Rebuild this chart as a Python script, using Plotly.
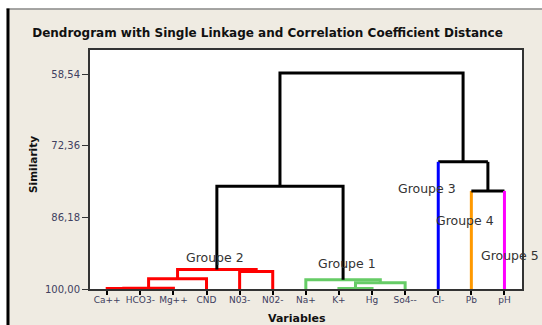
import plotly.graph_objects as go

# Leaves of the dendrogram, in display order, with the group each belongs to
leaves = ["Ca++", "HCO3-", "Mg++", "CND", "N03-", "N02-",
          "Na+", "K+", "Hg", "So4--", "Cl-", "Pb", "pH"]
leaf_groups = [2, 2, 2, 2, 2, 2, 1, 1, 1, 1, 3, 4, 5]

# Agglomeration steps: leaf nodes are 0..12, step k creates node 13 + k
merge_left = [0, 13, 7, 15, 6, 14, 4, 18, 11, 20, 10, 22]
merge_right = [1, 2, 8, 9, 16, 3, 5, 19, 12, 17, 21, 23]
merge_similarity = [99.92, 99.85, 99.90, 98.80, 98.22, 98.03,
                    96.62, 96.23, 81.08, 80.17, 75.47, 58.32]

# Similarity axis ticks
y_tickvals = [58.54, 72.36, 86.18, 100.00]
y_ticktext = ["58,54", "72,36", "86,18", "100,00"]

group_colors = {1: "#66CC66", 2: "#FF0000", 3: "#0000FF", 4: "#FF9900", 5: "#FF00FF"}
LINK_BLACK = "#000000"

# Node geometry: x centre, height, group (None once two groups are joined)
n_leaves = len(leaves)
node_x = [i + 1 for i in range(n_leaves)]
node_h = [100.0] * n_leaves
node_group = list(leaf_groups)
for a, b, s in zip(merge_left, merge_right, merge_similarity):
    node_x.append((node_x[a] + node_x[b]) / 2)
    node_h.append(s)
    node_group.append(node_group[a] if node_group[a] == node_group[b] else None)


def node_color(n):
    g = node_group[n]
    return group_colors[g] if g is not None else LINK_BLACK


# Collect polylines per colour: each link is left leg, crossbar, right leg
paths = {}


def add_path(color, xs, ys):
    d = paths.setdefault(color, ([], []))
    d[0].extend(xs + [None])
    d[1].extend(ys + [None])


for k, (a, b, s) in enumerate(zip(merge_left, merge_right, merge_similarity)):
    m = n_leaves + k
    cm = node_color(m)
    # leaf legs keep the leaf colour, legs from inner nodes take the parent colour
    ca = node_color(a) if a < n_leaves else cm
    cb = node_color(b) if b < n_leaves else cm
    xa, xb = node_x[a], node_x[b]
    if ca == cm and cb == cm:
        add_path(cm, [xa, xa, xb, xb], [node_h[a], s, s, node_h[b]])
    else:
        if ca == cm:
            add_path(cm, [xa, xa, xb], [node_h[a], s, s])
        else:
            add_path(ca, [xa, xa], [node_h[a], s])
            add_path(cm, [xa, xb], [s, s])
        add_path(cb, [xb, xb], [s, node_h[b]])

fig = go.Figure()
for color, (xs, ys) in paths.items():
    fig.add_trace(go.Scatter(x=xs, y=ys, mode="lines",
                             line=dict(color=color, width=3),
                             hoverinfo="skip", showlegend=False))

W, H = 542, 325
L, R, T, B = 90, 20, 50, 36
pw, ph = W - L - R, H - T - B


def px_x(x):
    return (x - L) / pw


def px_y(y):
    return 1 - (y - T) / ph


fig.update_layout(
    width=W, height=H,
    margin=dict(l=L, r=R, t=T, b=B),
    paper_bgcolor="#EFEBE2",
    plot_bgcolor="#FFFFFF",
    showlegend=False,
    font=dict(family="DejaVu Sans", color="#333333"),
    title=dict(text="<b>Dendrogram with Single Linkage and Correlation Coefficient Distance</b>",
               x=267.5 / W, y=1 - 33 / H, xanchor="center", yanchor="middle",
               font=dict(family="DejaVu Sans", size=12, color="#111111")),
)

fig.update_xaxes(
    range=[0.48, 13.53], tickmode="array",
    tickvals=list(range(1, n_leaves + 1)), ticktext=leaves,
    tickfont=dict(size=9, color="#404060"),
    showline=True, linecolor="#333333", linewidth=2, mirror=True,
    ticks="outside", ticklen=4, tickwidth=2, tickcolor="#000000",
    ticklabelstandoff=-3,
    showgrid=False, zeroline=False, fixedrange=True,
)
fig.update_yaxes(
    range=[100, 53.9], tickmode="array",
    tickvals=y_tickvals, ticktext=y_ticktext,
    tickfont=dict(size=10, color="#404060"),
    showline=True, linecolor="#333333", linewidth=2, mirror=True,
    ticks="outside", ticklen=6, tickwidth=1, tickcolor="#333333",
    showgrid=False, zeroline=False, fixedrange=True,
)

# Window frame: white strip above and left, grey top rule, black left rule
shapes = [
    dict(type="rect", xref="paper", yref="paper", layer="below",
         x0=px_x(0), x1=px_x(W), y0=px_y(0), y1=px_y(8.5),
         fillcolor="#FFFFFF", line=dict(width=0)),
    dict(type="rect", xref="paper", yref="paper", layer="below",
         x0=px_x(0), x1=px_x(6.5), y0=px_y(0), y1=px_y(H),
         fillcolor="#FFFFFF", line=dict(width=0)),
    dict(type="line", xref="paper", yref="paper",
         x0=px_x(6.5), x1=px_x(W), y0=px_y(9), y1=px_y(9),
         line=dict(color="#8A8A8A", width=1.5)),
    dict(type="line", xref="paper", yref="paper",
         x0=px_x(8), x1=px_x(8), y0=px_y(8.5), y1=px_y(H),
         line=dict(color="#000000", width=3)),
]
fig.update_layout(shapes=shapes)

annotations = [
    dict(text="<b>Similarity</b>", xref="paper", yref="paper",
         x=px_x(33), y=px_y(165), xanchor="center", yanchor="middle",
         textangle=-90, showarrow=False,
         font=dict(size=10.5, color="#111111")),
    dict(text="<b>Variables</b>", xref="paper", yref="paper",
         x=px_x(296.5), y=px_y(318), xanchor="center", yanchor="middle",
         showarrow=False, font=dict(size=11, color="#111111")),
]
group_label_font = dict(size=12.5, color="#333333")
for text, x, y in [("Groupe 2", 4.258, 93.85), ("Groupe 1", 8.258, 95.07),
                   ("Groupe 3", 10.65, 80.62), ("Groupe 4", 11.80, 86.75),
                   ("Groupe 5", 13.17, 93.52)]:
    annotations.append(dict(text=text, x=x, y=y, xref="x", yref="y",
                            xanchor="center", yanchor="middle",
                            showarrow=False, font=group_label_font))
fig.update_layout(annotations=annotations)

fig.write_html("out.html")
